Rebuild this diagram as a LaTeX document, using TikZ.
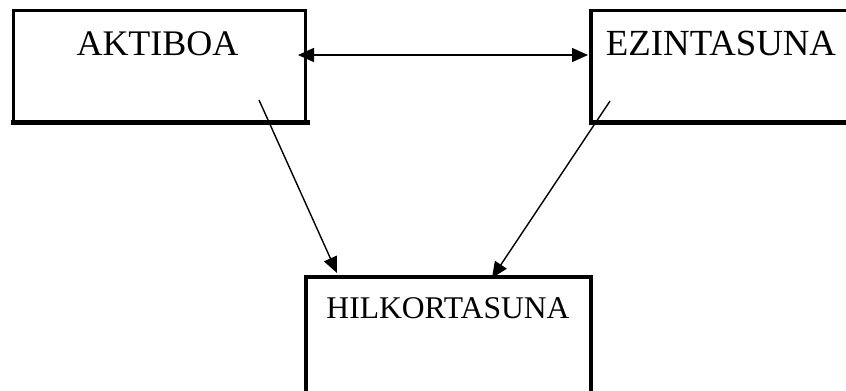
\documentclass[tikz,border=0pt]{standalone}
\usepackage{fontspec}
\setmainfont{Liberation Serif}
\usetikzlibrary{arrows.meta}
\tikzset{
  boxnode/.style={draw, line width=3.5bp, rectangle, inner sep=0pt, outer sep=0pt, anchor=north west},
  bottomline/.style={line width=4.5bp},
  labeltext/.style={anchor=base, inner sep=0pt},
  conn/.style={line width=1.4bp, -{Triangle[length=16bp,width=14bp]}},
  connboth/.style={line width=1.4bp, {Triangle[length=16bp,width=14bp]}-{Triangle[length=16bp,width=14bp]}}
}
\begin{document}
\begin{tikzpicture}[x=1bp,y=-1bp]
\useasboundingbox (0,0) rectangle (846,390);
\clip (0,0) rectangle (846,390);
% boxes
\node[boxnode, minimum width=292bp, minimum height=112bp] (akt) at (13.5,10.5) {};
\node[boxnode, minimum width=280bp, minimum height=112bp] (ezi) at (591,10.5) {};
\node[boxnode, minimum width=285bp, minimum height=130bp] (hil) at (306,277) {};
% thicker bottom edges
\draw[bottomline] ([xshift=-3bp]akt.south west) -- ([xshift=4bp]akt.south east);
\draw[bottomline] ([xshift=-2bp]ezi.south west) -- (ezi.south east);
% texts
\node[labeltext, font=\fontsize{36bp}{40bp}\selectfont] (akttxt) at (157.5,55) {AKTIBOA};
\node[labeltext, font=\fontsize{36.8bp}{40bp}\selectfont] (ezitxt) at (721,55) {EZINTASUNA};
\node[labeltext, font=\fontsize{31.6bp}{36bp}\selectfont] (hiltxt) at (448,318) {HILKORTASUNA};
% connector ends
\coordinate (a1) at (298,55);
\coordinate (e1) at (588,55);
\coordinate (a2) at (259,100);
\coordinate (h1) at (337,273);
\coordinate (e2) at (610,101);
\coordinate (h2) at (492,278);
% connectors
\draw[connboth] (a1) -- (e1);
\draw[conn] (a2) -- (h1);
\draw[conn] (e2) -- (h2);
\end{tikzpicture}
\end{document}
